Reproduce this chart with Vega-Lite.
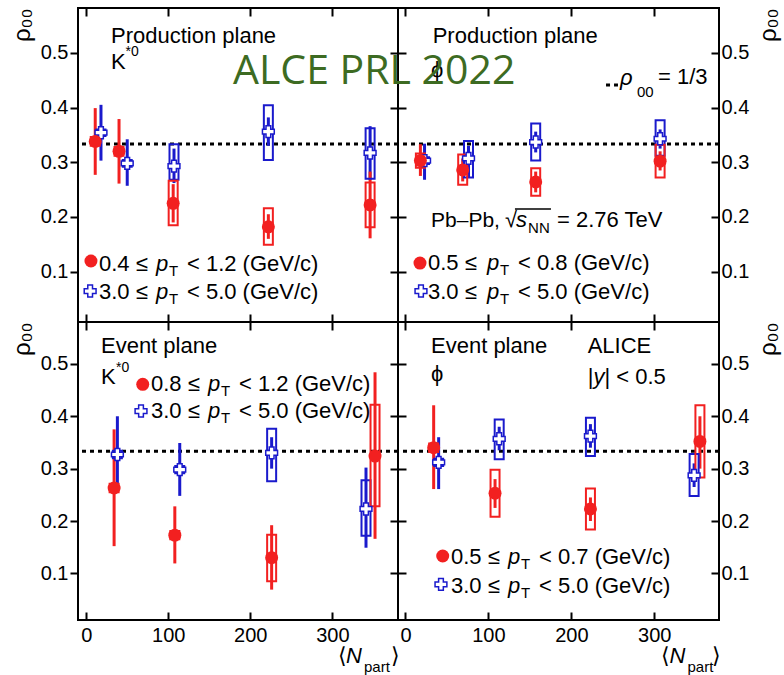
{
"$schema":"https://vega.github.io/schema/vega-lite/v6.json",
"background":"white",
"padding":{"left":9,"top":6,"right":5,"bottom":5},
"columns":2,
"bounds":"flush",
"spacing":0,
"resolve":{"scale":{"x":"independent","y":"independent"}},
"config":{
 "font":"Liberation Sans",
 "view":{"stroke":"black","strokeWidth":2},
 "axis":{"domain":false,"grid":false,"tickColor":"black","tickWidth":2,"labelColor":"black","labelFontSize":20,"labelFont":"Liberation Sans","titleColor":"black","titleFontWeight":"normal","titleFont":"Liberation Sans"},
 "text":{"fontSize":22,"align":"left","baseline":"alphabetic","color":"black"}
},
"datasets":{"pts":[
{"panel":"tl","series":"high","n":18,"v":0.354,"stat_lo":0.303,"stat_hi":0.405,"sys_lo":0.348,"sys_hi":0.360},
{"panel":"tl","series":"high","n":50,"v":0.298,"stat_lo":0.257,"stat_hi":0.342,"sys_lo":0.292,"sys_hi":0.304},
{"panel":"tl","series":"high","n":107,"v":0.293,"stat_lo":0.262,"stat_hi":0.325,"sys_lo":0.268,"sys_hi":0.333},
{"panel":"tl","series":"high","n":222,"v":0.356,"stat_lo":0.33,"stat_hi":0.382,"sys_lo":0.304,"sys_hi":0.404},
{"panel":"tl","series":"high","n":346,"v":0.317,"stat_lo":0.268,"stat_hi":0.366,"sys_lo":0.270,"sys_hi":0.362},
{"panel":"tl","series":"low","n":11,"v":0.338,"stat_lo":0.277,"stat_hi":0.399,"sys_lo":0.33,"sys_hi":0.346},
{"panel":"tl","series":"low","n":40,"v":0.320,"stat_lo":0.261,"stat_hi":0.379,"sys_lo":0.312,"sys_hi":0.328},
{"panel":"tl","series":"low","n":106,"v":0.225,"stat_lo":0.19,"stat_hi":0.26,"sys_lo":0.185,"sys_hi":0.266},
{"panel":"tl","series":"low","n":222,"v":0.182,"stat_lo":0.16,"stat_hi":0.205,"sys_lo":0.149,"sys_hi":0.216},
{"panel":"tl","series":"low","n":346,"v":0.222,"stat_lo":0.161,"stat_hi":0.283,"sys_lo":0.181,"sys_hi":0.263},
{"panel":"tr","series":"high","n":23,"v":0.303,"stat_lo":0.268,"stat_hi":0.334,"sys_lo":0.297,"sys_hi":0.309},
{"panel":"tr","series":"high","n":76,"v":0.307,"stat_lo":0.272,"stat_hi":0.33,"sys_lo":0.272,"sys_hi":0.339},
{"panel":"tr","series":"high","n":157,"v":0.337,"stat_lo":0.318,"stat_hi":0.356,"sys_lo":0.303,"sys_hi":0.371},
{"panel":"tr","series":"high","n":307,"v":0.343,"stat_lo":0.325,"stat_hi":0.36,"sys_lo":0.312,"sys_hi":0.377},
{"panel":"tr","series":"low","n":18,"v":0.303,"stat_lo":0.275,"stat_hi":0.333,"sys_lo":0.29,"sys_hi":0.316},
{"panel":"tr","series":"low","n":69,"v":0.286,"stat_lo":0.265,"stat_hi":0.307,"sys_lo":0.259,"sys_hi":0.314},
{"panel":"tr","series":"low","n":157,"v":0.264,"stat_lo":0.245,"stat_hi":0.283,"sys_lo":0.239,"sys_hi":0.289},
{"panel":"tr","series":"low","n":307,"v":0.302,"stat_lo":0.285,"stat_hi":0.32,"sys_lo":0.272,"sys_hi":0.332},
{"panel":"bl","series":"high","n":38,"v":0.327,"stat_lo":0.254,"stat_hi":0.400,"sys_lo":0.32,"sys_hi":0.334},
{"panel":"bl","series":"high","n":114,"v":0.298,"stat_lo":0.248,"stat_hi":0.349,"sys_lo":0.291,"sys_hi":0.305},
{"panel":"bl","series":"high","n":226,"v":0.330,"stat_lo":0.30,"stat_hi":0.36,"sys_lo":0.276,"sys_hi":0.376},
{"panel":"bl","series":"high","n":341,"v":0.223,"stat_lo":0.149,"stat_hi":0.302,"sys_lo":0.172,"sys_hi":0.278},
{"panel":"bl","series":"low","n":34,"v":0.263,"stat_lo":0.152,"stat_hi":0.375,"sys_lo":0.255,"sys_hi":0.271},
{"panel":"bl","series":"low","n":108,"v":0.173,"stat_lo":0.119,"stat_hi":0.228,"sys_lo":0.165,"sys_hi":0.181},
{"panel":"bl","series":"low","n":226,"v":0.130,"stat_lo":0.069,"stat_hi":0.192,"sys_lo":0.085,"sys_hi":0.174},
{"panel":"bl","series":"low","n":352,"v":0.324,"stat_lo":0.166,"stat_hi":0.484,"sys_lo":0.228,"sys_hi":0.422},
{"panel":"br","series":"high","n":40,"v":0.312,"stat_lo":0.261,"stat_hi":0.360,"sys_lo":0.305,"sys_hi":0.319},
{"panel":"br","series":"high","n":113,"v":0.357,"stat_lo":0.335,"stat_hi":0.38,"sys_lo":0.318,"sys_hi":0.394},
{"panel":"br","series":"high","n":223,"v":0.362,"stat_lo":0.34,"stat_hi":0.385,"sys_lo":0.324,"sys_hi":0.397},
{"panel":"br","series":"high","n":348,"v":0.287,"stat_lo":0.265,"stat_hi":0.31,"sys_lo":0.248,"sys_hi":0.328},
{"panel":"br","series":"low","n":34,"v":0.340,"stat_lo":0.261,"stat_hi":0.421,"sys_lo":0.332,"sys_hi":0.348},
{"panel":"br","series":"low","n":108,"v":0.253,"stat_lo":0.225,"stat_hi":0.28,"sys_lo":0.208,"sys_hi":0.298},
{"panel":"br","series":"low","n":223,"v":0.223,"stat_lo":0.20,"stat_hi":0.245,"sys_lo":0.184,"sys_hi":0.262},
{"panel":"br","series":"low","n":355,"v":0.352,"stat_lo":0.30,"stat_hi":0.40,"sys_lo":0.283,"sys_hi":0.421}
]},
"concat":[
 {"width":320,"height":314,"data":{"values":[{}]},
  "resolve":{"axis":{"x":"independent","y":"independent"}},
  "layer":[
   {"mark":{"type":"rule","strokeDash":[4,4],"strokeWidth":3,"color":"black"},
    "encoding":{"y":{"datum":0.3333,"type":"quantitative","scale":{"domain":[0.008,0.582],"nice":false,"zero":false,"padding":0},
      "axis":{"orient":"left","values":[0.1,0.2,0.3,0.4,0.5],"format":".1f","tickSize":8,"labelPadding":2,"title":"ρ₀₀","titleAnchor":"end","titleFontSize":24,"titlePadding":6}}}},
   {"data":{"name":"pts"},"transform":[{"filter":"datum.panel === 'tl'"}],
    "mark":{"type":"rule","strokeWidth":3},
    "encoding":{"x":{"field":"n","type":"quantitative","scale":{"domain":[-10,380],"nice":false,"zero":false,"padding":0},
      "axis":{"orient":"bottom","values":[0,100,200,300],"tickSize":-8,"labels":false,"title":null}},
     "y":{"field":"stat_lo","type":"quantitative","axis":{"orient":"right","values":[0.1,0.2,0.3,0.4,0.5],"labels":false,"tickSize":-8,"title":null}},
     "y2":{"field":"stat_hi"},
     "color":{"field":"series","type":"nominal","scale":{"domain":["high","low"],"range":["#1a1acc","#f22020"]},"legend":null}}},
   {"data":{"name":"pts"},"transform":[{"filter":"datum.panel === 'tl'"}],
    "mark":{"type":"bar","size":9,"filled":false,"strokeWidth":2},
    "encoding":{"x":{"field":"n","type":"quantitative","axis":{"orient":"top","values":[0,100,200,300],"tickSize":-8,"labels":false,"title":null}},
     "y":{"field":"sys_lo","type":"quantitative","axis":null},"y2":{"field":"sys_hi"},
     "color":{"field":"series","type":"nominal","legend":null}}},
   {"data":{"name":"pts"},"transform":[{"filter":"datum.panel === 'tl' && datum.series === 'high'"}],
    "mark":{"type":"point","shape":"cross","filled":true,"fill":"white","stroke":"#1a1acc","strokeWidth":1.5,"size":140,"opacity":1},
    "encoding":{"x":{"field":"n","type":"quantitative","axis":null},"y":{"field":"v","type":"quantitative","axis":null}}},
   {"data":{"name":"pts"},"transform":[{"filter":"datum.panel === 'tl' && datum.series === 'low'"}],
    "mark":{"type":"point","shape":"circle","filled":true,"size":169,"color":"#f22020","opacity":1},
    "encoding":{"x":{"field":"n","type":"quantitative","axis":null},"y":{"field":"v","type":"quantitative","axis":null}}},
   {"mark":{"type":"text","text":"Production plane"},"encoding":{"x":{"datum":30.2,"axis":null},"y":{"datum":0.518,"axis":null}}},
   {"mark":{"type":"text","text":"K"},"encoding":{"x":{"datum":30.2,"axis":null},"y":{"datum":0.4705,"axis":null}}},
   {"mark":{"type":"text","text":"*0","fontSize":14},"encoding":{"x":{"datum":48,"axis":null},"y":{"datum":0.4943,"axis":null}}},
   {"mark":{"type":"point","shape":"circle","filled":true,"size":169,"color":"#f22020","opacity":1},"encoding":{"x":{"datum":5.8,"axis":null},"y":{"datum":0.1195,"axis":null}}},
   {"mark":{"type":"text","text":"0.4 ≤"},"encoding":{"x":{"datum":15.6,"axis":null},"y":{"datum":0.1012,"axis":null}}},
   {"mark":{"type":"text","text":"p","fontStyle":"italic"},"encoding":{"x":{"datum":85.1,"axis":null},"y":{"datum":0.1012,"axis":null}}},
   {"mark":{"type":"text","text":"T","fontSize":15},"encoding":{"x":{"datum":100.9,"axis":null},"y":{"datum":0.092,"axis":null}}},
   {"mark":{"type":"text","text":"< 1.2 (GeV/c)"},"encoding":{"x":{"datum":122.8,"axis":null},"y":{"datum":0.1012,"axis":null}}},
   {"mark":{"type":"point","shape":"cross","filled":true,"fill":"white","stroke":"#1a1acc","strokeWidth":1.5,"size":140,"opacity":1},"encoding":{"x":{"datum":4.8,"axis":null},"y":{"datum":0.0646,"axis":null}}},
   {"mark":{"type":"text","text":"3.0 ≤"},"encoding":{"x":{"datum":15.6,"axis":null},"y":{"datum":0.050,"axis":null}}},
   {"mark":{"type":"text","text":"p","fontStyle":"italic"},"encoding":{"x":{"datum":85.1,"axis":null},"y":{"datum":0.050,"axis":null}}},
   {"mark":{"type":"text","text":"T","fontSize":15},"encoding":{"x":{"datum":100.9,"axis":null},"y":{"datum":0.0409,"axis":null}}},
   {"mark":{"type":"text","text":"< 5.0 (GeV/c)"},"encoding":{"x":{"datum":122.8,"axis":null},"y":{"datum":0.050,"axis":null}}}
  ]},
 {"width":321,"height":314,"data":{"values":[{}]},
  "resolve":{"axis":{"x":"independent","y":"independent"}},
  "layer":[
   {"mark":{"type":"rule","strokeDash":[4,4],"strokeWidth":3,"color":"black"},
    "encoding":{"y":{"datum":0.3333,"type":"quantitative","scale":{"domain":[0.008,0.582],"nice":false,"zero":false,"padding":0},
      "axis":{"orient":"left","values":[0.1,0.2,0.3,0.4,0.5],"labels":false,"tickSize":-8,"title":null}}}},
   {"data":{"name":"pts"},"transform":[{"filter":"datum.panel === 'tr'"}],
    "mark":{"type":"rule","strokeWidth":3},
    "encoding":{"x":{"field":"n","type":"quantitative","scale":{"domain":[-9,378],"nice":false,"zero":false,"padding":0},
      "axis":{"orient":"bottom","values":[0,100,200,300],"tickSize":-8,"labels":false,"title":null}},
     "y":{"field":"stat_lo","type":"quantitative","axis":{"orient":"right","values":[0.1,0.2,0.3,0.4,0.5],"format":".1f","tickSize":-8,"labelPadding":10,"title":"ρ₀₀","titleAnchor":"end","titleAngle":270,"titleBaseline":"top","titleFontSize":24,"titlePadding":8}},
     "y2":{"field":"stat_hi"},
     "color":{"field":"series","type":"nominal","scale":{"domain":["high","low"],"range":["#1a1acc","#f22020"]},"legend":null}}},
   {"data":{"name":"pts"},"transform":[{"filter":"datum.panel === 'tr'"}],
    "mark":{"type":"bar","size":9,"filled":false,"strokeWidth":2},
    "encoding":{"x":{"field":"n","type":"quantitative","axis":{"orient":"top","values":[0,100,200,300],"tickSize":-8,"labels":false,"title":null}},
     "y":{"field":"sys_lo","type":"quantitative","axis":null},"y2":{"field":"sys_hi"},
     "color":{"field":"series","type":"nominal","legend":null}}},
   {"data":{"name":"pts"},"transform":[{"filter":"datum.panel === 'tr' && datum.series === 'high'"}],
    "mark":{"type":"point","shape":"cross","filled":true,"fill":"white","stroke":"#1a1acc","strokeWidth":1.5,"size":140,"opacity":1},
    "encoding":{"x":{"field":"n","type":"quantitative","axis":null},"y":{"field":"v","type":"quantitative","axis":null}}},
   {"data":{"name":"pts"},"transform":[{"filter":"datum.panel === 'tr' && datum.series === 'low'"}],
    "mark":{"type":"point","shape":"circle","filled":true,"size":169,"color":"#f22020","opacity":1},
    "encoding":{"x":{"field":"n","type":"quantitative","axis":null},"y":{"field":"v","type":"quantitative","axis":null}}},
   {"mark":{"type":"text","text":"Production plane"},"encoding":{"x":{"datum":32.8,"axis":null},"y":{"datum":0.518,"axis":null}}},
   {"mark":{"type":"text","text":"ϕ"},"encoding":{"x":{"datum":30.8,"axis":null},"y":{"datum":0.456,"axis":null}}},
   {"mark":{"type":"rule","strokeDash":[4,4],"strokeWidth":3,"color":"black"},"encoding":{"x":{"datum":241.8,"axis":null},"x2":{"datum":256.2},"y":{"datum":0.4412,"axis":null}}},
   {"mark":{"type":"text","text":"ρ","fontStyle":"italic"},"encoding":{"x":{"datum":258.6,"axis":null},"y":{"datum":0.4412,"axis":null}}},
   {"mark":{"type":"text","text":"00","fontSize":15},"encoding":{"x":{"datum":279.1,"axis":null},"y":{"datum":0.4193,"axis":null}}},
   {"mark":{"type":"text","text":"= 1/3"},"encoding":{"x":{"datum":304.4,"axis":null},"y":{"datum":0.443,"axis":null}}},
   {"mark":{"type":"text","text":"Pb–Pb,","fontSize":21},"encoding":{"x":{"datum":30.8,"axis":null},"y":{"datum":0.1816,"axis":null}}},
   {"mark":{"type":"text","text":"√"},"encoding":{"x":{"datum":120.0,"axis":null},"y":{"datum":0.1816,"axis":null}}},
   {"mark":{"type":"text","text":"s","fontStyle":"italic"},"encoding":{"x":{"datum":133.3,"axis":null},"y":{"datum":0.1816,"axis":null}}},
   {"mark":{"type":"text","text":"NN","fontSize":15},"encoding":{"x":{"datum":147.8,"axis":null},"y":{"datum":0.1707,"axis":null}}},
   {"mark":{"type":"text","text":"= 2.76 TeV"},"encoding":{"x":{"datum":182.7,"axis":null},"y":{"datum":0.1816,"axis":null}}},
   {"mark":{"type":"rule","strokeWidth":1.5,"color":"black"},"encoding":{"x":{"datum":132.0,"axis":null},"x2":{"datum":175.4},"y":{"datum":0.2145,"axis":null}}},
   {"mark":{"type":"point","shape":"circle","filled":true,"size":169,"color":"#f22020","opacity":1},"encoding":{"x":{"datum":17.5,"axis":null},"y":{"datum":0.1158,"axis":null}}},
   {"mark":{"type":"text","text":"0.5 ≤"},"encoding":{"x":{"datum":27.2,"axis":null},"y":{"datum":0.103,"axis":null}}},
   {"mark":{"type":"text","text":"p","fontStyle":"italic"},"encoding":{"x":{"datum":98.3,"axis":null},"y":{"datum":0.103,"axis":null}}},
   {"mark":{"type":"text","text":"T","fontSize":15},"encoding":{"x":{"datum":114.0,"axis":null},"y":{"datum":0.0939,"axis":null}}},
   {"mark":{"type":"text","text":"< 0.8 (GeV/c)"},"encoding":{"x":{"datum":135.7,"axis":null},"y":{"datum":0.103,"axis":null}}},
   {"mark":{"type":"point","shape":"cross","filled":true,"fill":"white","stroke":"#1a1acc","strokeWidth":1.5,"size":140,"opacity":1},"encoding":{"x":{"datum":18.7,"axis":null},"y":{"datum":0.0646,"axis":null}}},
   {"mark":{"type":"text","text":"3.0 ≤"},"encoding":{"x":{"datum":27.2,"axis":null},"y":{"datum":0.050,"axis":null}}},
   {"mark":{"type":"text","text":"p","fontStyle":"italic"},"encoding":{"x":{"datum":98.3,"axis":null},"y":{"datum":0.050,"axis":null}}},
   {"mark":{"type":"text","text":"T","fontSize":15},"encoding":{"x":{"datum":114.0,"axis":null},"y":{"datum":0.0409,"axis":null}}},
   {"mark":{"type":"text","text":"< 5.0 (GeV/c)"},"encoding":{"x":{"datum":135.7,"axis":null},"y":{"datum":0.050,"axis":null}}},
   {"mark":{"type":"text","text":"ALCE PRL 2022","font":"Open Sans","fontSize":41,"color":"#3d6b22"},"encoding":{"x":{"datum":-207.9,"axis":null},"y":{"datum":0.443,"axis":null}}}
  ]},
 {"width":320,"height":298,"data":{"values":[{}]},
  "resolve":{"axis":{"x":"independent","y":"independent"}},
  "layer":[
   {"mark":{"type":"rule","strokeDash":[4,4],"strokeWidth":3,"color":"black"},
    "encoding":{"y":{"datum":0.3333,"type":"quantitative","scale":{"domain":[0.011,0.58],"nice":false,"zero":false,"padding":0},
      "axis":{"orient":"left","values":[0.1,0.2,0.3,0.4,0.5],"format":".1f","tickSize":8,"labelPadding":2,"title":"ρ₀₀","titleAnchor":"end","titleFontSize":24,"titlePadding":6}}}},
   {"data":{"name":"pts"},"transform":[{"filter":"datum.panel === 'bl'"}],
    "mark":{"type":"rule","strokeWidth":3},
    "encoding":{"x":{"field":"n","type":"quantitative","scale":{"domain":[-10,380],"nice":false,"zero":false,"padding":0},
      "axis":{"orient":"bottom","values":[0,100,200,300],"tickSize":-8,"labelPadding":13,"title":null}},
     "y":{"field":"stat_lo","type":"quantitative","axis":{"orient":"right","values":[0.1,0.2,0.3,0.4,0.5],"labels":false,"tickSize":-8,"title":null}},
     "y2":{"field":"stat_hi"},
     "color":{"field":"series","type":"nominal","scale":{"domain":["high","low"],"range":["#1a1acc","#f22020"]},"legend":null}}},
   {"data":{"name":"pts"},"transform":[{"filter":"datum.panel === 'bl'"}],
    "mark":{"type":"bar","size":9,"filled":false,"strokeWidth":2},
    "encoding":{"x":{"field":"n","type":"quantitative","axis":{"orient":"top","values":[0,100,200,300],"tickSize":-8,"labels":false,"title":null}},
     "y":{"field":"sys_lo","type":"quantitative","axis":null},"y2":{"field":"sys_hi"},
     "color":{"field":"series","type":"nominal","legend":null}}},
   {"data":{"name":"pts"},"transform":[{"filter":"datum.panel === 'bl' && datum.series === 'high'"}],
    "mark":{"type":"point","shape":"cross","filled":true,"fill":"white","stroke":"#1a1acc","strokeWidth":1.5,"size":140,"opacity":1},
    "encoding":{"x":{"field":"n","type":"quantitative","axis":null},"y":{"field":"v","type":"quantitative","axis":null}}},
   {"data":{"name":"pts"},"transform":[{"filter":"datum.panel === 'bl' && datum.series === 'low'"}],
    "mark":{"type":"point","shape":"circle","filled":true,"size":169,"color":"#f22020","opacity":1},
    "encoding":{"x":{"field":"n","type":"quantitative","axis":null},"y":{"field":"v","type":"quantitative","axis":null}}},
   {"mark":{"type":"text","text":"Event plane"},"encoding":{"x":{"datum":18.0,"axis":null},"y":{"datum":0.5208,"axis":null}}},
   {"mark":{"type":"text","text":"K"},"encoding":{"x":{"datum":18.0,"axis":null},"y":{"datum":0.4616,"axis":null}}},
   {"mark":{"type":"text","text":"*0","fontSize":14},"encoding":{"x":{"datum":36.3,"axis":null},"y":{"datum":0.4845,"axis":null}}},
   {"mark":{"type":"point","shape":"circle","filled":true,"size":169,"color":"#f22020","opacity":1},"encoding":{"x":{"datum":68.9,"axis":null},"y":{"datum":0.461,"axis":null}}},
   {"mark":{"type":"text","text":"0.8 ≤"},"encoding":{"x":{"datum":79.0,"axis":null},"y":{"datum":0.4482,"axis":null}}},
   {"mark":{"type":"text","text":"p","fontStyle":"italic"},"encoding":{"x":{"datum":148.4,"axis":null},"y":{"datum":0.4482,"axis":null}}},
   {"mark":{"type":"text","text":"T","fontSize":15},"encoding":{"x":{"datum":164.3,"axis":null},"y":{"datum":0.4387,"axis":null}}},
   {"mark":{"type":"text","text":"< 1.2 (GeV/c)"},"encoding":{"x":{"datum":186.2,"axis":null},"y":{"datum":0.4482,"axis":null}}},
   {"mark":{"type":"point","shape":"cross","filled":true,"fill":"white","stroke":"#1a1acc","strokeWidth":1.5,"size":140,"opacity":1},"encoding":{"x":{"datum":66.8,"axis":null},"y":{"datum":0.410,"axis":null}}},
   {"mark":{"type":"text","text":"3.0 ≤"},"encoding":{"x":{"datum":79.0,"axis":null},"y":{"datum":0.3967,"axis":null}}},
   {"mark":{"type":"text","text":"p","fontStyle":"italic"},"encoding":{"x":{"datum":148.4,"axis":null},"y":{"datum":0.3967,"axis":null}}},
   {"mark":{"type":"text","text":"T","fontSize":15},"encoding":{"x":{"datum":164.3,"axis":null},"y":{"datum":0.3873,"axis":null}}},
   {"mark":{"type":"text","text":"< 5.0 (GeV/c)"},"encoding":{"x":{"datum":186.2,"axis":null},"y":{"datum":0.3967,"axis":null}}},
   {"mark":{"type":"text","text":"⟨"},"encoding":{"x":{"datum":306.5,"axis":null},"y":{"datum":-0.0706,"axis":null}}},
   {"mark":{"type":"text","text":"N","fontStyle":"italic"},"encoding":{"x":{"datum":316.6,"axis":null},"y":{"datum":-0.0706,"axis":null}}},
   {"mark":{"type":"text","text":"part","fontSize":15},"encoding":{"x":{"datum":338.6,"axis":null},"y":{"datum":-0.0883,"axis":null}}},
   {"mark":{"type":"text","text":"⟩"},"encoding":{"x":{"datum":371.5,"axis":null},"y":{"datum":-0.0706,"axis":null}}}
  ]},
 {"width":321,"height":298,"data":{"values":[{}]},
  "resolve":{"axis":{"x":"independent","y":"independent"}},
  "layer":[
   {"mark":{"type":"rule","strokeDash":[4,4],"strokeWidth":3,"color":"black"},
    "encoding":{"y":{"datum":0.3333,"type":"quantitative","scale":{"domain":[0.011,0.58],"nice":false,"zero":false,"padding":0},
      "axis":{"orient":"left","values":[0.1,0.2,0.3,0.4,0.5],"labels":false,"tickSize":-8,"title":null}}}},
   {"data":{"name":"pts"},"transform":[{"filter":"datum.panel === 'br'"}],
    "mark":{"type":"rule","strokeWidth":3},
    "encoding":{"x":{"field":"n","type":"quantitative","scale":{"domain":[-9,378],"nice":false,"zero":false,"padding":0},
      "axis":{"orient":"bottom","values":[0,100,200,300],"tickSize":-8,"labelPadding":13,"title":null}},
     "y":{"field":"stat_lo","type":"quantitative","axis":{"orient":"right","values":[0.1,0.2,0.3,0.4,0.5],"format":".1f","tickSize":-8,"labelPadding":10,"title":"ρ₀₀","titleAnchor":"end","titleAngle":270,"titleBaseline":"top","titleFontSize":24,"titlePadding":8}},
     "y2":{"field":"stat_hi"},
     "color":{"field":"series","type":"nominal","scale":{"domain":["high","low"],"range":["#1a1acc","#f22020"]},"legend":null}}},
   {"data":{"name":"pts"},"transform":[{"filter":"datum.panel === 'br'"}],
    "mark":{"type":"bar","size":9,"filled":false,"strokeWidth":2},
    "encoding":{"x":{"field":"n","type":"quantitative","axis":{"orient":"top","values":[0,100,200,300],"tickSize":-8,"labels":false,"title":null}},
     "y":{"field":"sys_lo","type":"quantitative","axis":null},"y2":{"field":"sys_hi"},
     "color":{"field":"series","type":"nominal","legend":null}}},
   {"data":{"name":"pts"},"transform":[{"filter":"datum.panel === 'br' && datum.series === 'high'"}],
    "mark":{"type":"point","shape":"cross","filled":true,"fill":"white","stroke":"#1a1acc","strokeWidth":1.5,"size":140,"opacity":1},
    "encoding":{"x":{"field":"n","type":"quantitative","axis":null},"y":{"field":"v","type":"quantitative","axis":null}}},
   {"data":{"name":"pts"},"transform":[{"filter":"datum.panel === 'br' && datum.series === 'low'"}],
    "mark":{"type":"point","shape":"circle","filled":true,"size":169,"color":"#f22020","opacity":1},
    "encoding":{"x":{"field":"n","type":"quantitative","axis":null},"y":{"field":"v","type":"quantitative","axis":null}}},
   {"mark":{"type":"text","text":"Event plane"},"encoding":{"x":{"datum":30.8,"axis":null},"y":{"datum":0.5208,"axis":null}}},
   {"mark":{"type":"text","text":"ALICE"},"encoding":{"x":{"datum":219.7,"axis":null},"y":{"datum":0.5208,"axis":null}}},
   {"mark":{"type":"text","text":"ϕ"},"encoding":{"x":{"datum":30.8,"axis":null},"y":{"datum":0.4673,"axis":null}}},
   {"mark":{"type":"text","text":"|"},"encoding":{"x":{"datum":219.7,"axis":null},"y":{"datum":0.461,"axis":null}}},
   {"mark":{"type":"text","text":"y","fontStyle":"italic"},"encoding":{"x":{"datum":226.7,"axis":null},"y":{"datum":0.461,"axis":null}}},
   {"mark":{"type":"text","text":"| < 0.5"},"encoding":{"x":{"datum":239.9,"axis":null},"y":{"datum":0.461,"axis":null}}},
   {"mark":{"type":"point","shape":"circle","filled":true,"size":169,"color":"#f22020","opacity":1},"encoding":{"x":{"datum":44.9,"axis":null},"y":{"datum":0.1332,"axis":null}}},
   {"mark":{"type":"text","text":"0.5 ≤"},"encoding":{"x":{"datum":54.9,"axis":null},"y":{"datum":0.1179,"axis":null}}},
   {"mark":{"type":"text","text":"p","fontStyle":"italic"},"encoding":{"x":{"datum":123.6,"axis":null},"y":{"datum":0.1179,"axis":null}}},
   {"mark":{"type":"text","text":"T","fontSize":15},"encoding":{"x":{"datum":139.3,"axis":null},"y":{"datum":0.1083,"axis":null}}},
   {"mark":{"type":"text","text":"< 0.7 (GeV/c)"},"encoding":{"x":{"datum":161.0,"axis":null},"y":{"datum":0.1179,"axis":null}}},
   {"mark":{"type":"point","shape":"cross","filled":true,"fill":"white","stroke":"#1a1acc","strokeWidth":1.5,"size":140,"opacity":1},"encoding":{"x":{"datum":42.8,"axis":null},"y":{"datum":0.0791,"axis":null}}},
   {"mark":{"type":"text","text":"3.0 ≤"},"encoding":{"x":{"datum":54.9,"axis":null},"y":{"datum":0.0631,"axis":null}}},
   {"mark":{"type":"text","text":"p","fontStyle":"italic"},"encoding":{"x":{"datum":123.6,"axis":null},"y":{"datum":0.0631,"axis":null}}},
   {"mark":{"type":"text","text":"T","fontSize":15},"encoding":{"x":{"datum":139.3,"axis":null},"y":{"datum":0.0536,"axis":null}}},
   {"mark":{"type":"text","text":"< 5.0 (GeV/c)"},"encoding":{"x":{"datum":161.0,"axis":null},"y":{"datum":0.0631,"axis":null}}},
   {"mark":{"type":"text","text":"⟨"},"encoding":{"x":{"datum":308.1,"axis":null},"y":{"datum":-0.0706,"axis":null}}},
   {"mark":{"type":"text","text":"N","fontStyle":"italic"},"encoding":{"x":{"datum":318.3,"axis":null},"y":{"datum":-0.0706,"axis":null}}},
   {"mark":{"type":"text","text":"part","fontSize":15},"encoding":{"x":{"datum":340.0,"axis":null},"y":{"datum":-0.0883,"axis":null}}},
   {"mark":{"type":"text","text":"⟩"},"encoding":{"x":{"datum":369.5,"axis":null},"y":{"datum":-0.0706,"axis":null}}}
  ]}
]
}
